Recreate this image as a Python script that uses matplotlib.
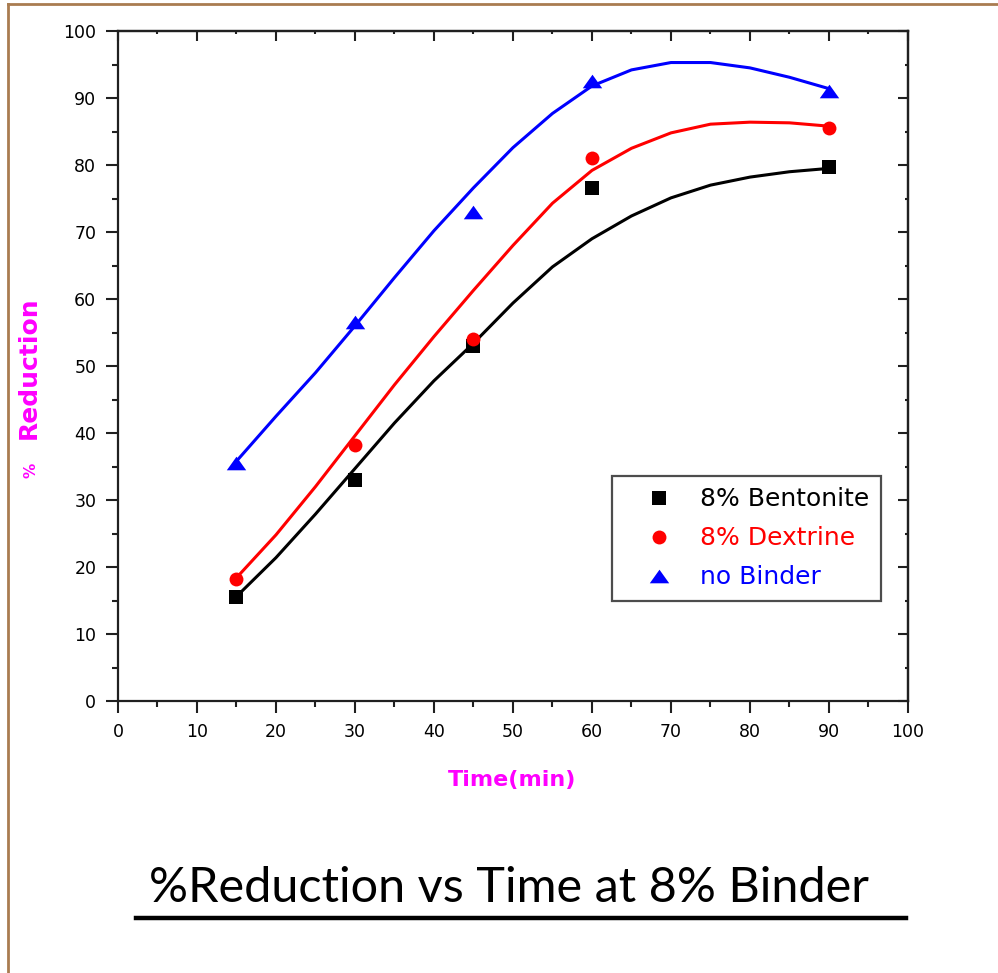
import numpy as np
import matplotlib
matplotlib.use('Agg')
from matplotlib import pyplot as plt
from matplotlib.ticker import MultipleLocator

# measured reduction (%) vs time (min)
time = [15, 30, 45, 60, 90]
bentonite = [15.5, 33.0, 53.0, 76.5, 79.7]
dextrine = [18.2, 38.2, 54.0, 81.0, 85.5]
no_binder = [35.5, 56.5, 73.0, 92.5, 91.0]

# smoothed trend lines, sampled every 5 min
fit_time = [15, 20, 25, 30, 35, 40, 45, 50, 55, 60, 65, 70, 75, 80, 85, 90]
fit_bentonite = [15.6, 21.4, 27.9, 34.7, 41.5, 47.8, 53.4, 59.4, 64.8, 69.0,
                 72.4, 75.1, 77.0, 78.2, 79.0, 79.5]
fit_dextrine = [18.4, 24.8, 32.0, 39.6, 47.2, 54.4, 61.3, 68.0, 74.3, 79.2,
                82.5, 84.8, 86.1, 86.4, 86.3, 85.8]
fit_no_binder = [35.8, 42.5, 49.0, 56.0, 63.2, 70.2, 76.6, 82.6, 87.7, 91.8,
                 94.2, 95.3, 95.3, 94.5, 93.1, 91.4]

labels = ['8% Bentonite', '8% Dextrine', 'no Binder']
colors = ['black', '#ff0000', '#0000ff']
tri = [(-1, -0.7), (1, -0.7), (0, 0.7), (-1, -0.7)]
markers = ['s', 'o', tri]
msizes = [9.5, 10, 14]

fig = plt.figure(figsize=(9.98, 9.73), dpi=100)
ax = fig.add_axes([0.1182, 0.2795, 0.7916, 0.6886])

for y, f, c, m, ms, lab in zip([bentonite, dextrine, no_binder],
                               [fit_bentonite, fit_dextrine, fit_no_binder],
                               colors, markers, msizes, labels):
    ax.plot(fit_time, f, color=c, lw=2.2, zorder=2, solid_joinstyle='round')
    ax.plot(time, y, ls='none', marker=m, color=c, ms=ms, mew=0,
            label=lab, zorder=3)

ax.set_xlim(0, 100)
ax.set_ylim(0, 100)
ax.xaxis.set_major_locator(MultipleLocator(10))
ax.xaxis.set_minor_locator(MultipleLocator(5))
ax.yaxis.set_major_locator(MultipleLocator(10))
ax.yaxis.set_minor_locator(MultipleLocator(5))
for s in ax.spines.values():
    s.set_linewidth(1.6)
    s.set_color('#202020')
ax.tick_params(which='both', direction='out', width=1.5, colors='#202020',
               labelsize=12.5, labelcolor='black')
ax.tick_params(which='major', length=8.6, pad=7)
ax.tick_params(which='minor', length=4)

# inward ticks on the top and right frame
ax2 = ax.secondary_xaxis('top')
ax3 = ax.secondary_yaxis('right')
for a, side in [(ax2, 'top'), (ax3, 'right')]:
    a.tick_params(which='both', direction='in', width=1.5, colors='#202020')
    a.tick_params(which='major', length=7)
    a.tick_params(which='minor', length=2.5)
    a.spines[side].set_linewidth(1.6)
    a.spines[side].set_color('#202020')
ax2.xaxis.set_major_locator(MultipleLocator(10))
ax2.xaxis.set_minor_locator(MultipleLocator(5))
ax3.yaxis.set_major_locator(MultipleLocator(10))
ax3.yaxis.set_minor_locator(MultipleLocator(5))
ax2.set_xticklabels([])
ax3.set_yticklabels([])

fig.text(0.513, 0.1984, 'Time(min)', color='#ff00ff', fontweight='bold',
         fontsize=16, ha='center', va='center')
fig.text(0.031, 0.517, '%', color='#ff00ff', fontweight='bold', fontsize=11,
         rotation=90, ha='center', va='center')
fig.text(0.029, 0.6223, 'Reduction', color='#ff00ff', fontweight='bold',
         fontsize=18, rotation=90, ha='center', va='center')

leg = ax.legend(loc='upper left', bbox_to_anchor=(0.6253, 0.3358),
                borderaxespad=0, fontsize=18, frameon=True, fancybox=False,
                edgecolor='#202020', borderpad=0.45, handletextpad=0.19,
                labelspacing=0.6, handlelength=2.9)
leg.get_frame().set_linewidth(1.6)
for txt, c in zip(leg.get_texts(), colors):
    txt.set_color(c)

fig.text(0.51, 0.0733, '%Reduction vs Time at 8% Binder', family='Lato',
         fontsize=35, ha='center', va='baseline', color='black')
fig.add_artist(plt.Line2D([0.1363, 0.9078], [0.057, 0.057], color='black',
                          lw=3.2, transform=fig.transFigure))

# page frame along the top and left edges
fig.add_artist(plt.Line2D([0.008, 1.0], [0.9959, 0.9959], color='#a97c50',
                          lw=2, transform=fig.transFigure))
fig.add_artist(plt.Line2D([0.0085, 0.0085], [0.0, 0.996], color='#a97c50',
                          lw=2, transform=fig.transFigure))

fig.savefig('out.png', dpi=100)
